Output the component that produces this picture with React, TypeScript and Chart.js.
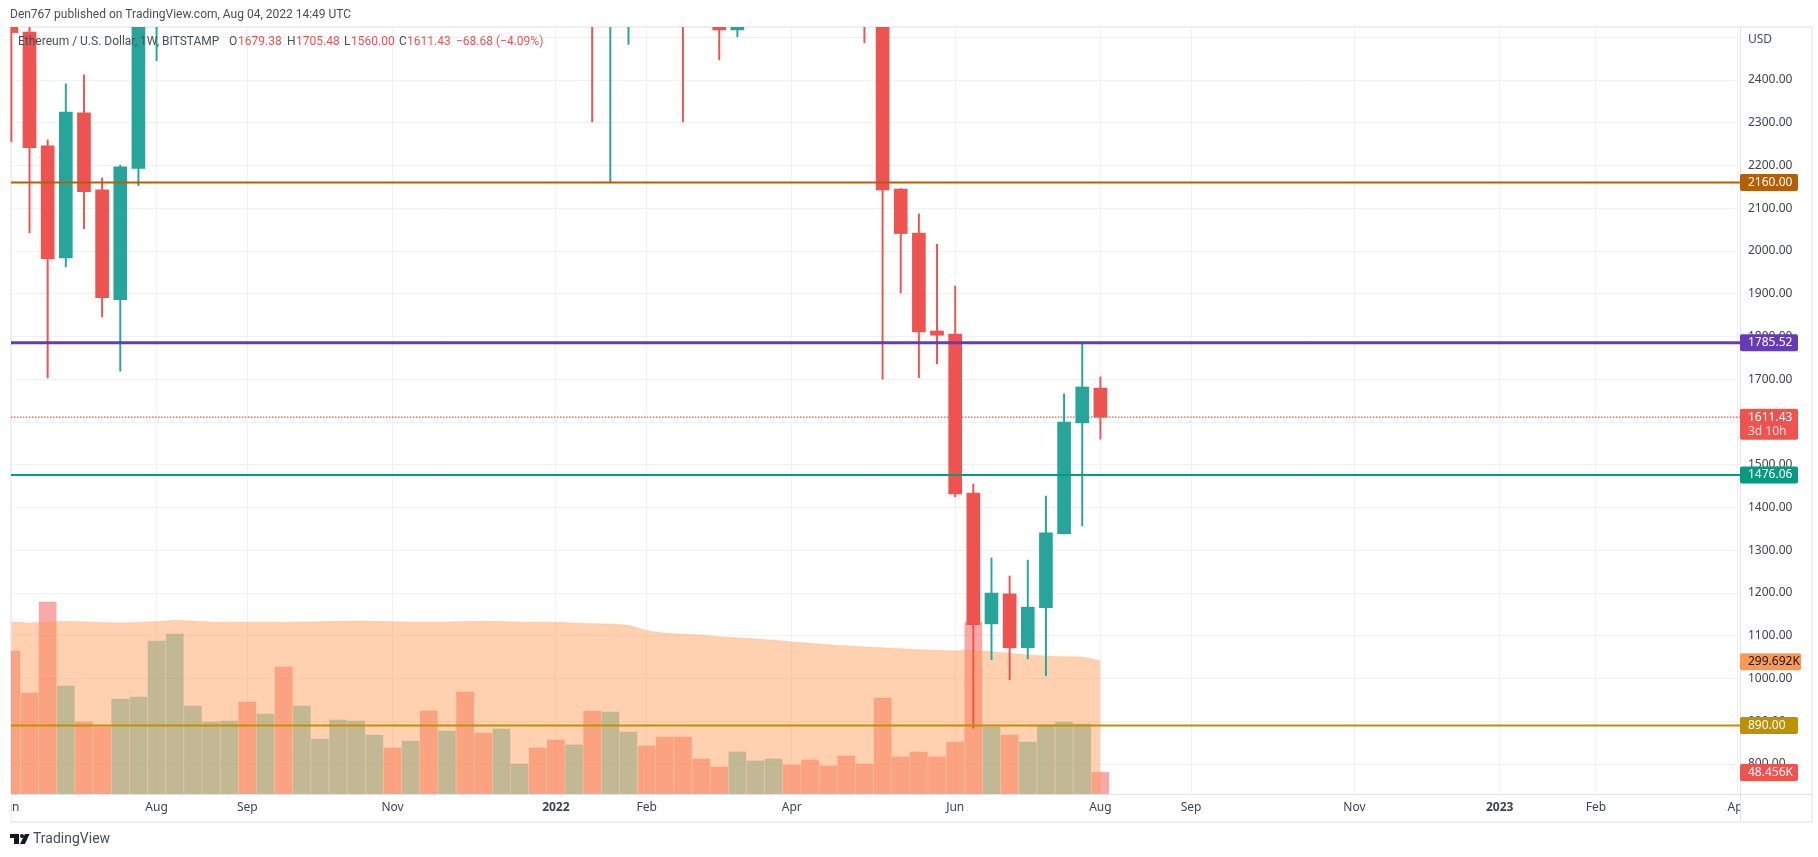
import React, { useEffect, useRef } from "react";
import { Chart, registerables } from "chart.js";

Chart.register(...registerables);

const FONT = '"Noto Sans", sans-serif';
const TEXT_FONT = 'Roboto, sans-serif';
const UP = "#26a69a";
const DOWN = "#ef5350";

// weekly candles (values above the visible range are estimates)
const opens = [2620, 2512, 2246, 1984, 2323, 2143, 1886, 2193, 2540, 3010, 3225, 3240, 3430, 3920, 3320, 3330, 3050, 3410, 3850, 4060, 4290, 4610, 4530, 4720, 4300, 4440, 4090, 3910, 3960, 4060, 3770, 3190, 3300, 2540, 2580, 3070, 3060, 2780, 2630, 2560, 2517, 2960, 3290, 3460, 3280, 3060, 2970, 2810, 2720, 2145, 2042, 1813, 1806, 1434, 1128, 1198, 1072, 1166, 1339, 1598, 1679.38];
const closes = [2511, 2242, 1982, 2325, 2139, 1891, 2197, 2530, 3010, 3225, 3240, 3430, 3920, 3320, 3330, 3050, 3410, 3850, 4060, 4290, 4610, 4530, 4720, 4300, 4440, 4090, 3910, 3960, 4060, 3770, 3190, 3300, 2540, 2580, 3070, 3060, 2780, 2630, 2560, 2517, 2960, 3290, 3460, 3280, 3060, 2970, 2810, 2720, 2143, 2041, 1811, 1803, 1432, 1126, 1200, 1072, 1167, 1341, 1600, 1682, 1611.43];
const highs = [2700, 2560, 2260, 2391, 2412, 2171, 2201, 2800, 3170, 3330, 3370, 3480, 4030, 3980, 3480, 3440, 3480, 3970, 4300, 4460, 4670, 4870, 4780, 4780, 4650, 4490, 4140, 4100, 4170, 4080, 3900, 3410, 3300, 2800, 3280, 3290, 3170, 2830, 2950, 2640, 3040, 3480, 3580, 3480, 3310, 3200, 3030, 2960, 2730, 2146, 2087, 2016, 1918, 1455, 1282, 1240, 1277, 1427, 1666, 1784, 1705.48];
const lows = [2256, 2043, 1703, 1963, 2052, 1846, 1719, 2153, 2445, 2900, 2960, 3060, 3360, 3020, 3020, 2740, 3030, 3280, 3690, 3900, 4220, 4400, 4130, 3990, 3940, 3800, 3650, 3820, 3700, 3620, 3060, 2930, 2302, 2160, 2483, 2840, 2620, 2302, 2540, 2447, 2501, 2860, 3170, 3180, 2960, 2790, 2780, 2487, 1700, 1902, 1704, 1736, 1425, 884, 1044, 997, 1046, 1007, 1338, 1357, 1560];

// volume in thousands, and its moving average
const volumes = [321.5, 227, 431.6, 242.8, 161.9, 150.6, 213.6, 218.1, 343.9, 359.7, 197.8, 161.9, 164.1, 206.8, 179.8, 285.5, 197.8, 123.6, 166.4, 164.1, 132.6, 103.4, 119.1, 186.6, 141.6, 229.3, 137.1, 146.1, 67.4, 103.4, 121.4, 110.2, 186.6, 184.3, 139.4, 107.9, 128.1, 128.1, 78.7, 60.7, 94.4, 74.2, 78.7, 65.2, 76.4, 62.9, 85.4, 67.4, 215.8, 83.2, 94.4, 83.2, 116.9, 386.7, 150.6, 132.6, 116.9, 155.1, 161.9, 157.4, 48.456];
const volumeMA = [386.7, 384.4, 386.7, 387.8, 387.3, 385.5, 384.4, 385.5, 387.8, 390, 388.9, 386.7, 386, 386, 386, 386.2, 386.7, 387.3, 388.2, 388.9, 388.2, 387.3, 386.7, 386.7, 386.7, 387.8, 388.5, 387.8, 386.7, 386, 386, 384.4, 382.8, 382.2, 379.2, 367.1, 361.3, 359, 357.4, 353.6, 351.4, 348.4, 345.5, 341.7, 338.8, 335.6, 333.4, 330.5, 328.9, 326.6, 324.4, 323, 321.5, 323.7, 319.9, 316.3, 312.5, 310.2, 308.7, 308, 299.692];

const levelValues = [2160, 1785.52, 1476.06, 890];
const levelColors = ["#b45f06", "#673ab7", "#089981", "#bf9000"];
const levelWidths = [2, 3, 2, 2];
const lastPrice = 1611.43;

const xTickIndex = [-0.05, 8, 13, 21, 30, 35, 43, 52, 60, 65, 74, 82, 87.3, 95.1];
const xTickLabels = ["Jun", "Aug", "Sep", "Nov", "2022", "Feb", "Apr", "Jun", "Aug", "Sep", "Nov", "2023", "Feb", "Apr"];
const priceTicks = [800, 900, 1000, 1100, 1200, 1300, 1400, 1500, 1600, 1700, 1800, 1900, 2000, 2100, 2200, 2300, 2400, 2500];

const X_MIN = -0.02;
const X_MAX = 95.24;
const Y_MIN = 730;
const Y_MAX = 2524;
const VOL_MAX = 1724;

const overlayPlugin = {
  id: "overlay",
  beforeDraw(chart: any) {
    const { ctx } = chart;
    ctx.save();
    ctx.fillStyle = "#eeeef3";
    ctx.fillRect(10, 26, 1802, 2);
    ctx.fillRect(10, 821, 1802, 2);
    ctx.fillRect(10, 26, 2, 797);
    ctx.fillRect(1811, 26, 2, 797);
    ctx.restore();
  },
  afterDraw(chart: any) {
    const { ctx } = chart;
    const area = chart.chartArea;
    const yS = chart.scales.y;
    const vS = chart.scales.yVol;
    ctx.save();

    // clip the overflowing x labels
    ctx.fillStyle = "#ffffff";
    ctx.fillRect(0, area.bottom + 1, 11, 26);
    ctx.fillRect(area.right, area.bottom + 1, 71, 20);

    ctx.fillStyle = "#e0e3eb";
    ctx.fillRect(area.left, area.bottom, 1811 - area.left, 1);
    ctx.fillRect(area.right, 27, 1, 794);

    ctx.textBaseline = "middle";
    ctx.textAlign = "left";

    // header
    ctx.font = `12px ${TEXT_FONT}`;
    ctx.fillStyle = "#4a4e57";
    ctx.fillText("Den767 published on TradingView.com, Aug 04, 2022 14:49 UTC", 10, 15);

    // legend
    const pieces: [string, number, string][] = [
      ["Ethereum / U.S. Dollar, 1W, BITSTAMP", 18, "#4a4e57"],
      ["O", 229, "#4a4e57"],
      ["1679.38", 238, DOWN],
      ["H", 287, "#4a4e57"],
      ["1705.48", 296, DOWN],
      ["L", 344, "#4a4e57"],
      ["1560.00", 351, DOWN],
      ["C", 399, "#4a4e57"],
      ["1611.43", 407, DOWN],
      ["\u221268.68 (\u22124.09%)", 456, DOWN],
    ];
    pieces.forEach(([t, x, c]) => {
      ctx.fillStyle = c;
      ctx.fillText(t, x, 42);
    });

    // axis caption
    ctx.fillStyle = "#4a4e57";
    ctx.font = `12px ${FONT}`;
    ctx.fillText("USD", 1748, 40);

    // price tags
    const tag = (cy: number, h: number, w: number, bg: string) => {
      ctx.fillStyle = bg;
      ctx.beginPath();
      ctx.roundRect(area.right, cy - h / 2, w, h, 2);
      ctx.fill();
    };
    levelValues.forEach((v, i) => {
      const cy = yS.getPixelForValue(v);
      tag(cy, 17, 58, levelColors[i]);
      ctx.fillStyle = "#ffffff";
      ctx.fillText(v.toFixed(2), 1748, cy);
    });

    const lp = yS.getPixelForValue(lastPrice);
    tag(lp + 7, 31, 58, DOWN);
    ctx.fillStyle = "#ffffff";
    ctx.fillText(lastPrice.toFixed(2), 1748, lp);
    ctx.fillStyle = "#ffd9d8";
    ctx.fillText("3d 10h", 1748, lp + 14);

    const ma = volumeMA[volumeMA.length - 1];
    const maY = vS.getPixelForValue(ma);
    tag(maY + 1, 17, 61, "#ff9850");
    ctx.fillStyle = "#131722";
    ctx.fillText(ma.toFixed(3) + "K", 1748, maY + 1);

    const vol = volumes[volumes.length - 1];
    const vY = vS.getPixelForValue(vol);
    tag(vY, 17, 58, DOWN);
    ctx.fillStyle = "#ffffff";
    ctx.fillText(vol.toFixed(3) + "K", 1748, vY);

    // footer brand
    ctx.fillStyle = "#131722";
    ctx.fillRect(10, 834, 9, 4);
    ctx.fillRect(14, 834, 5, 10);
    ctx.beginPath();
    ctx.arc(22, 836, 2, 0, Math.PI * 2);
    ctx.fill();
    ctx.beginPath();
    ctx.moveTo(25, 834);
    ctx.lineTo(29.5, 834);
    ctx.lineTo(25, 844);
    ctx.lineTo(20, 844);
    ctx.closePath();
    ctx.fill();
    ctx.fillStyle = "#4a4e57";
    ctx.font = `14px ${TEXT_FONT}`;
    ctx.fillText("TradingView", 33, 839);
    ctx.restore();
  },
};

export default function App() {
  const ref = useRef<HTMLCanvasElement>(null);

  useEffect(() => {
    document.body.style.margin = "0";
    const idx = opens.map((_, i) => i);
    const candleColor = idx.map((i) => (closes[i] >= opens[i] ? UP : DOWN));
    const volColor = idx.map((i) =>
      closes[i] >= opens[i] ? "rgba(38,166,154,0.5)" : "rgba(239,83,80,0.5)"
    );

    const levelSets = levelValues.map((v, i) => ({
      type: "line",
      data: [
        { x: X_MIN, y: v },
        { x: X_MAX, y: v },
      ],
      borderColor: levelColors[i],
      borderWidth: levelWidths[i],
      pointRadius: 0,
      order: 1,
      clip: 0,
    }));

    const chart = new Chart(ref.current as HTMLCanvasElement, {
      type: "bar",
      data: {
        datasets: [
          ...levelSets,
          {
            type: "bar",
            data: idx.map((i) => ({ x: i, y: [opens[i], closes[i]] })),
            backgroundColor: candleColor,
            barThickness: 13,
            grouped: false,
            order: 2,
            clip: 0,
          },
          {
            type: "bar",
            data: idx.map((i) => ({ x: i, y: [lows[i], highs[i]] })),
            backgroundColor: candleColor,
            barThickness: 1.3,
            grouped: false,
            order: 3,
            clip: { left: 1, right: 0, top: 0, bottom: 0 },
          },
          {
            type: "line",
            data: [
              { x: X_MIN, y: lastPrice },
              { x: X_MAX, y: lastPrice },
            ],
            borderColor: DOWN,
            borderWidth: 1.2,
            borderDash: [1.5, 1.5],
            pointRadius: 0,
            order: 4,
            clip: 0,
          },
          {
            type: "line",
            yAxisID: "yVol",
            data: idx.map((i) => ({ x: i, y: volumeMA[i] })),
            borderColor: "rgba(255,152,80,0.25)",
            borderWidth: 1,
            backgroundColor: "rgba(255,152,80,0.45)",
            fill: "origin",
            pointRadius: 0,
            tension: 0,
            order: 5,
            clip: 0,
          },
          {
            type: "bar",
            yAxisID: "yVol",
            data: idx.map((i) => ({ x: i, y: volumes[i] })),
            backgroundColor: volColor,
            barThickness: 17,
            grouped: false,
            order: 6,
            clip: 0,
          },
        ],
      } as any,
      options: {
        animation: false,
        responsive: false,
        devicePixelRatio: 1,
        layout: { padding: { left: 11, top: 27, right: 6, bottom: 36 } },
        plugins: { legend: { display: false }, tooltip: { enabled: false } },
        events: [],
        scales: {
          x: {
            type: "linear",
            min: X_MIN,
            max: X_MAX,
            offset: false,
            grid: {
              offset: false,
              color: (c: any) => (c.tick && c.tick.value < 0 ? "transparent" : "#f0f1f4"),
              drawTicks: false,
            },
            border: { display: false },
            afterBuildTicks: (s: any) => {
              s.ticks = xTickIndex.map((value) => ({ value }));
            },
            afterFit: (s: any) => {
              s.height = 27;
              s.paddingLeft = 0;
              s.paddingRight = 0;
            },
            ticks: {
              autoSkip: false,
              maxRotation: 0,
              minRotation: 0,
              padding: 6,
              color: "#3f434c",
              font: (c: any) => ({
                family: FONT,
                size: 12,
                weight: /^\d/.test(String(c.tick?.label)) ? "bold" : "normal",
              }),
              callback: (v: any) => xTickLabels[xTickIndex.indexOf(v)],
            },
          },
          y: {
            position: "right",
            min: Y_MIN,
            max: Y_MAX,
            grid: { color: "#f0f1f4", drawTicks: false },
            border: { display: false },
            afterBuildTicks: (s: any) => {
              s.ticks = priceTicks.map((value) => ({ value }));
            },
            afterFit: (s: any) => {
              s.width = 72;
            },
            ticks: {
              padding: 8,
              color: "#3f434c",
              font: { family: FONT, size: 12 },
              callback: (v: any) => (v === 2500 ? "" : Number(v).toFixed(2)),
            },
          },
          yVol: {
            display: false,
            min: 0,
            max: VOL_MAX,
            grid: { display: false },
          },
        },
      } as any,
      plugins: [overlayPlugin],
    });
    return () => chart.destroy();
  }, []);

  return <canvas ref={ref} width={1818} height={857} style={{ display: "block" }} />;
}
